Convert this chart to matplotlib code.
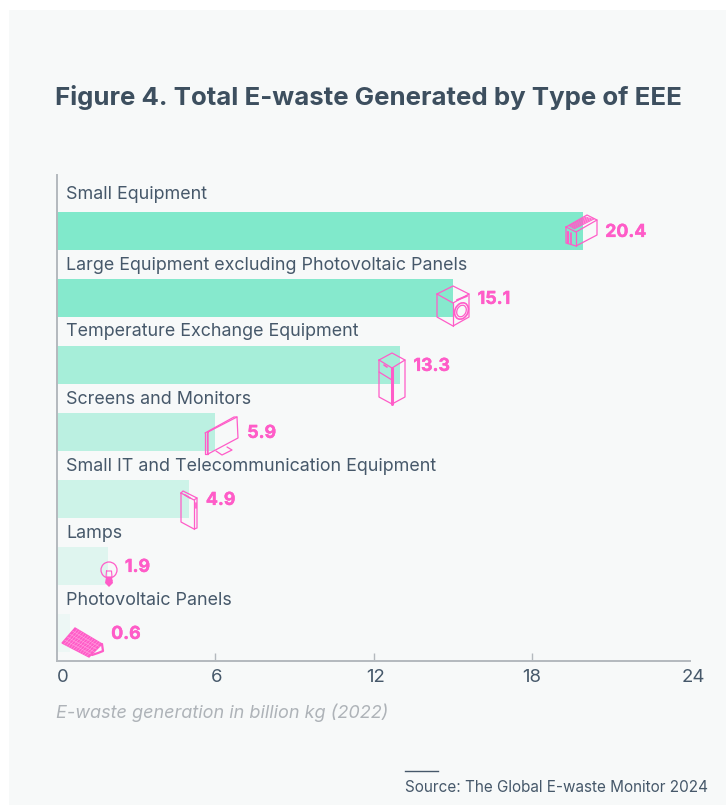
import matplotlib
matplotlib.use("Agg")
import matplotlib.pyplot as plt
import matplotlib.patheffects as pe
from matplotlib.patches import Rectangle, Circle, Ellipse, Polygon
from matplotlib.transforms import ScaledTranslation

plt.rcParams['font.family'] = ['Inter', 'DejaVu Sans']

categories = ["Small Equipment", "Large Equipment excluding Photovoltaic Panels",
              "Temperature Exchange Equipment", "Screens and Monitors",
              "Small IT and Telecommunication Equipment", "Lamps", "Photovoltaic Panels"]
bar_lengths = [19.95, 15, 13, 6, 5, 1.93, 0.5]
value_labels = ["20.4", "15.1", "13.3", "5.9", "4.9", "1.9", "0.6"]
bar_alpha = [1.0, 0.95, 0.68, 0.5, 0.35, 0.2, 0.08]
ticks = [0, 6, 12, 18, 24]

W, H = 726, 805
INK = '#46586a'
PINK = '#ff5cc8'
MINT = '#80e9cb'
GREY = '#b4b9be'

fig = plt.figure(figsize=(W / 100, H / 100), dpi=100, facecolor='white')
fig.patches.append(Rectangle((9 / W, 0), 1, 1 - 10 / H, transform=fig.transFigure,
                             facecolor='#f7f9f9', edgecolor='none', zorder=-5))

ax = fig.add_axes([57 / W, 1 - 661 / H, 633 / W, (661 - 175) / H])
ax.patch.set_alpha(0)
ax.set_xlim(0, 24)
# one row is 67 px, first bar centre sits at y=231
ax.set_ylim((661 - 231) / 67, -(231 - 175) / 67)
ax.barh(range(7), bar_lengths, height=38 / 67, color=MINT, linewidth=0)
for b, a in zip(ax.patches, bar_alpha):
    b.set_alpha(a)

for s in ['top', 'right']:
    ax.spines[s].set_visible(False)
for s in ['left', 'bottom']:
    ax.spines[s].set_color(GREY)
    ax.spines[s].set_linewidth(1.4)

ax.set_yticks([])
ax.set_xticks(ticks)
ax.tick_params(axis='x', direction='in', length=6, width=1, color=GREY, pad=6,
               labelsize=13.4, labelcolor=INK)
# the labels sit a little to the right of their ticks in the original
for lab, dx in zip(ax.get_xticklabels(), [5.5, 1, 2.5, -0.5, 3]):
    lab.set_transform(lab.get_transform() + ScaledTranslation(dx / 100, 0, fig.dpi_scale_trans))
ax.get_xticklines()[0].set_visible(False)
ax.get_xticklines()[8].set_visible(False)

for i, name in enumerate(categories):
    dy = -36.5 if i == 0 else -33
    ax.annotate(name, xy=(0, i), xytext=(9 * 0.72, -dy * 0.72), textcoords='offset points',
                ha='left', va='center', fontsize=12.9, color=INK)

label_gap = [22, 25, 13.5, 32, 17, 17, 41]
for i, txt in enumerate(value_labels):
    t = ax.annotate(txt, xy=(bar_lengths[i], i), xytext=(label_gap[i] * 0.72, -1), textcoords='offset points',
                    ha='left', va='center', fontsize=12.8, color=PINK, fontweight='bold')
    t.set_path_effects([pe.withStroke(linewidth=0.3, foreground=PINK)])

# overlay in pixel coordinates for titles and little icons
ov = fig.add_axes([0, 0, 1, 1])
ov.set_xlim(0, W)
ov.set_ylim(H, 0)
ov.axis('off')

ov.text(55, 98, "Figure 4. Total E-waste Generated by Type of EEE", fontsize=18.6,
        fontweight='bold', color='#3d4f5f', ha='left', va='center')
ov.text(56, 713, "E-waste generation in billion kg (2022)", fontsize=13, style='italic',
        color='#aeb3b8', ha='left', va='center')
ov.plot([405, 438], [771, 771], color=INK, lw=1)
ov.text(405, 787, "Source: The Global E-waste Monitor 2024", fontsize=11, color=INK,
        ha='left', va='center')


def line(pts, lw=0.9, closed=False):
    xs = [p[0] for p in pts]
    ys = [p[1] for p in pts]
    if closed:
        xs.append(xs[0])
        ys.append(ys[0])
    ov.plot(xs, ys, color=PINK, lw=lw, solid_joinstyle='round', solid_capstyle='round')


# toaster
line([(566, 227), (587, 215), (597, 220), (597, 235), (576, 246), (566, 243)], closed=True)
line([(566, 227), (576, 232), (597, 220)])
line([(576, 232), (576, 246)])
for k in range(6):
    line([(569 + k * 1.0, 226 + k * 0.6), (586 + k * 1.6, 217 + k * 0.4)], lw=0.7)
line([(568, 232), (568, 243)], lw=1.6)
line([(571, 233), (571, 244)], lw=1.2)

# washing machine
line([(437, 294), (453, 286), (469, 294), (469, 317), (453, 326), (437, 317)], closed=True)
line([(437, 294), (453, 303), (469, 294)])
line([(453, 303), (453, 326)])
line([(457, 300), (467, 296)], lw=1.4)
ov.add_patch(Ellipse((461.5, 311), 13, 17, angle=25, fill=False, edgecolor=PINK, lw=1.2))
ov.add_patch(Ellipse((461.5, 311), 9, 12, angle=25, fill=False, edgecolor=PINK, lw=0.9))

# fridge
line([(379, 360), (392, 353), (405, 360), (405, 397), (392, 404), (379, 397)], closed=True)
line([(379, 360), (392, 368), (405, 360)])
line([(392, 368), (392, 404)], lw=2.2)
line([(379, 372), (392, 380)])
line([(384, 365), (387, 367)], lw=1.2)

# monitor
line([(208, 432), (237, 417), (238, 438), (208, 454)], closed=True)
line([(205, 433), (234, 417), (237, 417)])
line([(205, 433), (205, 454), (208, 454)])
line([(206.5, 433), (206.5, 454)])
line([(216, 451), (222, 455), (232, 450), (227, 447)])

# phone
line([(181, 493), (183, 491), (197, 498), (197, 528), (194, 529), (181, 522)], closed=True)
line([(181, 493), (194, 500), (197, 498)])
line([(194, 500), (194, 529)])
line([(185, 495), (190, 498)], lw=1.2)
line([(195.5, 503), (195.5, 508)], lw=1.2)

# bulb
ov.add_patch(Circle((109, 570), 8, fill=False, edgecolor=PINK, lw=0.9))
line([(106.5, 571), (111.5, 571), (112, 577), (106, 577)], closed=True, lw=0.8)
ov.add_patch(Polygon([(106, 577), (112, 577), (113, 583), (109, 587), (105, 583)],
                     facecolor=PINK, edgecolor='none'))
line([(106, 580), (112, 580)], lw=0.5)

# solar panel
ov.add_patch(Polygon([(62, 643), (75, 628), (102, 644), (89, 657)], facecolor=PINK, edgecolor=PINK, lw=1))
grid_start = len(ov.lines)
for k in range(1, 12):
    t = k / 12
    line([(62 + 27 * t, 643 + 14 * t), (75 + 27 * t, 628 + 16 * t)], lw=0.3)
for k in range(1, 5):
    t = k / 5
    line([(62 + 13 * t, 643 - 15 * t), (89 + 13 * t, 657 - 13 * t)], lw=0.3)
for l in ov.lines[grid_start:]:
    l.set_color('#ffb3e6')
line([(102, 644), (103, 651), (98, 653), (92, 655)], lw=1.6)

fig.savefig("out.png", dpi=100, facecolor='white')
